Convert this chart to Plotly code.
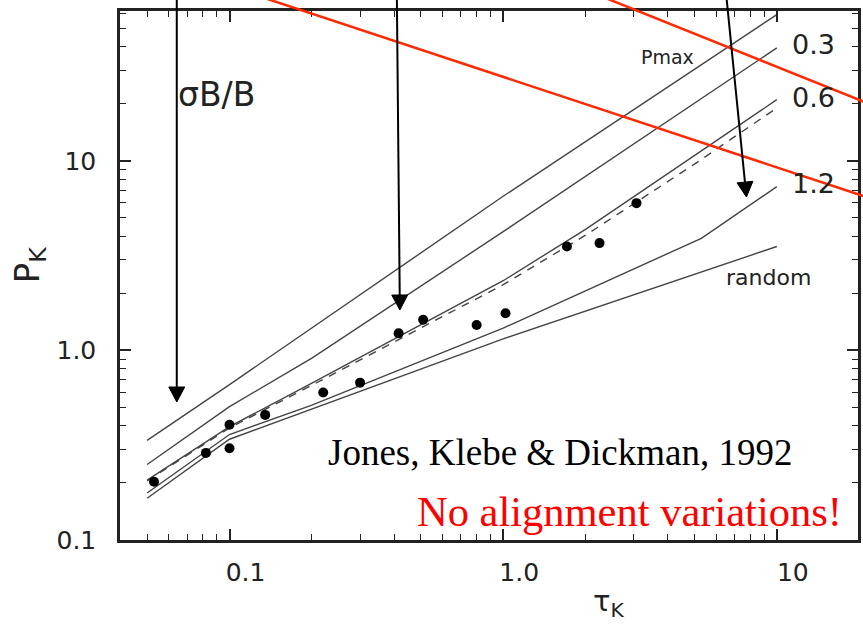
import plotly.graph_objects as go
import math

# ---------------- data ----------------
pmax_tau = [0.05, 0.1, 1.0, 10.0]
pmax_p = [0.335, 0.66, 6.5, 59.0]

s03_tau = [0.05, 0.1, 0.2, 1.0, 10.0]
s03_p = [0.25, 0.505, 0.91, 4.23, 39.4]

s06_tau = [0.05, 0.1, 0.2, 0.5, 1.0, 2.0, 5.0, 10.0]
s06_p = [0.207, 0.396, 0.672, 1.36, 2.33, 4.35, 10.6, 21.0]

fit_tau = [0.05, 0.1, 0.2, 0.5, 1.0, 2.0, 5.0, 10.0]
fit_p = [0.205, 0.39, 0.655, 1.31, 2.22, 4.05, 9.6, 19.0]

s12_tau = [0.05, 0.1, 0.2, 1.0, 5.3, 10.0]
s12_p = [0.177, 0.36, 0.515, 1.31, 3.9, 7.3]

rand_tau = [0.05, 0.1, 1.0, 10.0]
rand_p = [0.166, 0.34, 1.15, 3.53]

obs_tau = [0.053, 0.082, 0.10, 0.10, 0.135, 0.22, 0.30, 0.415, 0.51, 0.80, 1.02, 1.71, 2.25, 3.07]
obs_p = [0.203, 0.288, 0.405, 0.305, 0.457, 0.60, 0.676, 1.23, 1.45, 1.36, 1.57, 3.53, 3.68, 5.98]

x_major = [0.1, 1.0, 10.0]
x_major_text = ["0.1", "1.0", "10"]
y_major = [0.1, 1.0, 10.0]
y_major_text = ["0.1", "1.0", "10"]
x_minor = [0.04, 0.05, 0.06, 0.07, 0.08, 0.09, 0.2, 0.3, 0.4, 0.5, 0.6, 0.7, 0.8, 0.9,
           2, 3, 4, 5, 6, 7, 8, 9]
y_minor = [0.2, 0.3, 0.4, 0.5, 0.6, 0.7, 0.8, 0.9, 2, 3, 4, 5, 6, 7, 8, 9,
           20, 30, 40, 50, 60]

curve_labels = ["Pmax", "0.3", "0.6", "1.2", "random"]

# ---------------- figure ----------------
LINE = "#444444"
fig = go.Figure()

for xs, ys in [(pmax_tau, pmax_p), (s03_tau, s03_p), (s06_tau, s06_p),
               (s12_tau, s12_p), (rand_tau, rand_p)]:
    fig.add_trace(go.Scatter(x=xs, y=ys, mode="lines",
                             line=dict(color=LINE, width=1.4), showlegend=False))

fig.add_trace(go.Scatter(x=fit_tau, y=fit_p, mode="lines",
                         line=dict(color=LINE, width=1.4, dash="8px,7px"),
                         showlegend=False))

fig.add_trace(go.Scatter(x=obs_tau, y=obs_p, mode="markers",
                         marker=dict(color="black", size=10), showlegend=False))

axis_common = dict(
    type="log", showgrid=False, zeroline=False,
    showline=True, linecolor="#222", linewidth=2.5, mirror="allticks",
    ticks="inside", ticklen=11, tickwidth=1.5, tickcolor="#222",
    tickmode="array",
    tickfont=dict(family="DejaVu Sans", size=25, color="#222"),
)

fig.update_xaxes(**axis_common, range=[math.log10(0.0398), math.log10(19.8)],
                 tickvals=x_major, ticktext=x_major_text,
                 ticklabelstandoff=8, ticklabelshift=16,
                 minor=dict(tickmode="array", tickvals=x_minor, ticks="inside",
                            ticklen=6, tickwidth=1.2, tickcolor="#222"))
fig.update_yaxes(**axis_common, range=[-1.0, 1.79],
                 tickvals=y_major, ticktext=y_major_text,
                 ticklabelstandoff=16,
                 minor=dict(tickmode="array", tickvals=y_minor, ticks="inside",
                            ticklen=6, tickwidth=1.2, tickcolor="#222"))

# ---------------- decorations (pixel positions of overlays) ----------------
W, H = 863, 625
L, R, T, B = 120, 2, 11, 85
PW, PH = W - L - R, H - T - B


def px(xp):
    return (xp - L) / PW


def py(yp):
    return (H - B - yp) / PH


RED = "#ff2a00"
red_lines = [((262, -3), (880, 200.5)), ((605, -3), (880, 107))]
for (x0, y0), (x1, y1) in red_lines:
    fig.add_shape(type="line", xref="paper", yref="paper",
                  x0=px(x0), y0=py(y0), x1=px(x1), y1=py(y1),
                  line=dict(color=RED, width=2.5), layer="above")

# arrows: shaft line + filled triangular head (pixel positions)
arrows = [((177, 402), (177, -2)), ((401, 310), (398, -2)), ((749, 197), (729, -2))]
HEAD_LEN, HEAD_HALF = 15, 8
for (tx, ty), (sx, sy) in arrows:
    dx, dy = tx - sx, ty - sy
    n = math.hypot(dx, dy)
    ux, uy = dx / n, dy / n
    bx, by = tx - ux * HEAD_LEN, ty - uy * HEAD_LEN
    fig.add_shape(type="line", xref="paper", yref="paper",
                  x0=px(sx), y0=py(sy), x1=px(bx), y1=py(by),
                  line=dict(color="black", width=2), layer="above")
    p1 = (bx - uy * HEAD_HALF, by + ux * HEAD_HALF)
    p2 = (bx + uy * HEAD_HALF, by - ux * HEAD_HALF)
    path = "M {} {} L {} {} L {} {} Z".format(px(tx), py(ty), px(p1[0]), py(p1[1]),
                                               px(p2[0]), py(p2[1]))
    fig.add_shape(type="path", xref="paper", yref="paper", path=path,
                  fillcolor="black", line=dict(color="black", width=1), layer="above")

SANS = "DejaVu Sans"
label_pos = [(670, 57, 19), (816, 45, 27), (816, 97, 27), (816, 183, 27), (771, 278, 22)]
for text, (lx, ly, fs) in zip(curve_labels, label_pos):
    fig.add_annotation(xref="paper", yref="paper", x=px(lx), y=py(ly), text=text,
                       showarrow=False, font=dict(family=SANS, size=fs, color="#222"),
                       xanchor="center", yanchor="middle")

fig.add_annotation(xref="paper", yref="paper", x=px(176), y=py(95), text="σB/B",
                   showarrow=False, font=dict(family=SANS, size=33, color="#222"),
                   xanchor="left", yanchor="middle")

fig.add_annotation(xref="paper", yref="paper", x=px(610), y=py(603),
                   text="τ<sub>K</sub>", showarrow=False,
                   font=dict(family=SANS, size=29, color="#222"),
                   xanchor="center", yanchor="middle")
fig.add_annotation(xref="paper", yref="paper", x=px(29), y=py(264),
                   text="P<sub>K</sub>", showarrow=False, textangle=-90,
                   font=dict(family=SANS, size=34, color="#222"),
                   xanchor="center", yanchor="middle")

fig.add_annotation(xref="paper", yref="paper", x=px(327), y=py(452),
                   text="Jones, Klebe &amp; Dickman, 1992", showarrow=False,
                   font=dict(family="Liberation Serif", size=37, color="black"),
                   xanchor="left", yanchor="middle")
fig.add_annotation(xref="paper", yref="paper", x=px(416), y=py(511),
                   text="No alignment variations!", showarrow=False,
                   font=dict(family="Liberation Serif", size=42.5, color="#ff0000"),
                   xanchor="left", yanchor="middle")

fig.update_layout(width=W, height=H,
                  margin=dict(l=L, r=R, t=T, b=B),
                  paper_bgcolor="white", plot_bgcolor="white")

fig.write_html("out.html")
